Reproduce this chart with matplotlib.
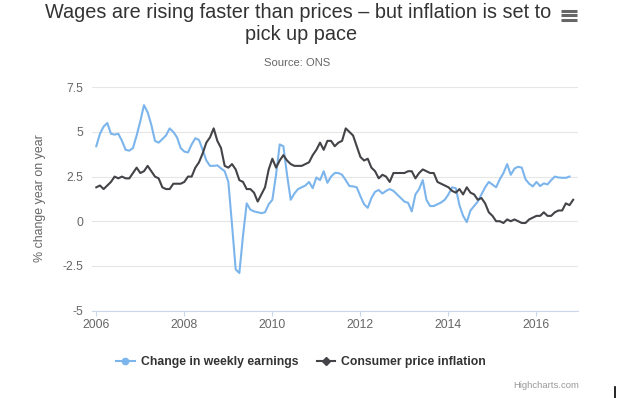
"""
Wages vs prices: weekly earnings growth and CPI inflation, 2006-2016.
"""
import matplotlib.pyplot as plt
import numpy as np
from matplotlib.lines import Line2D

# monthly values, first point is January 2006
weekly_earnings = [
    4.2, 4.9, 5.3, 5.5, 4.9, 4.85, 4.9, 4.5, 4.0, 3.95, 4.1, 4.8,
    5.6, 6.5, 6.1, 5.4, 4.5, 4.4, 4.6, 4.8, 5.2, 5.0, 4.7, 4.1,
    3.9, 3.85, 4.3, 4.65, 4.55, 4.0, 3.4, 3.1, 3.1, 3.13, 2.96, 2.8,
    2.2, -0.2, -2.7, -2.9, -0.8, 1.0, 0.65, 0.55, 0.5, 0.45, 0.5, 0.95,
    1.2, 2.6, 4.3, 4.2, 2.6, 1.2, 1.55, 1.8, 1.9, 2.0, 2.2, 1.85,
    2.45, 2.3, 2.8, 2.15, 2.5, 2.7, 2.7, 2.6, 2.3, 1.97, 1.95, 1.9,
    1.4, 0.95, 0.75, 1.3, 1.65, 1.75, 1.55, 1.7, 1.8, 1.7, 1.5, 1.3,
    1.1, 1.03, 0.55, 1.5, 1.8, 2.3, 1.2, 0.85, 0.85, 0.95, 1.05, 1.2,
    1.5, 1.9, 1.85, 0.9, 0.3, -0.05, 0.6, 0.85, 1.1, 1.5, 1.9, 2.2,
    2.05, 1.9, 2.35, 2.7, 3.2, 2.6, 2.95, 3.05, 3.0, 2.35, 2.1, 1.95,
    2.2, 1.97, 2.12, 2.06, 2.3, 2.5, 2.45, 2.43, 2.43, 2.5,
]
consumer_prices = [
    1.9, 2.0, 1.8, 2.0, 2.2, 2.5, 2.4, 2.5, 2.4, 2.4, 2.7, 3.0,
    2.7, 2.8, 3.1, 2.8, 2.5, 2.4, 1.9, 1.8, 1.8, 2.1, 2.1, 2.1,
    2.2, 2.5, 2.5, 3.0, 3.3, 3.8, 4.4, 4.7, 5.2, 4.5, 4.1, 3.1,
    3.0, 3.2, 2.9, 2.3, 2.2, 1.8, 1.8, 1.6, 1.1, 1.5, 1.9, 2.9,
    3.5, 3.0, 3.4, 3.7, 3.4, 3.2, 3.1, 3.1, 3.1, 3.2, 3.3, 3.7,
    4.0, 4.4, 4.0, 4.5, 4.5, 4.2, 4.4, 4.5, 5.2, 5.0, 4.8, 4.2,
    3.6, 3.4, 3.5, 3.0, 2.8, 2.4, 2.6, 2.5, 2.2, 2.7, 2.7, 2.7,
    2.7, 2.8, 2.8, 2.4, 2.7, 2.9, 2.8, 2.7, 2.7, 2.2, 2.1, 2.0,
    1.9, 1.7, 1.6, 1.8, 1.5, 1.9, 1.6, 1.5, 1.2, 1.3, 1.0, 0.5,
    0.3, 0.0, 0.0, -0.1, 0.1, 0.0, 0.1, 0.0, -0.1, -0.1, 0.1, 0.2,
    0.3, 0.3, 0.5, 0.3, 0.3, 0.5, 0.6, 0.6, 1.0, 0.9, 1.2,
]
series_names = ["Change in weekly earnings", "Consumer price inflation"]
series_colors = ["#7cb5ec", "#434348"]
series_markers = ["o", "D"]
start_year = 2006
year_ticks = [2006, 2008, 2010, 2012, 2014, 2016]
y_ticks = [-5, -2.5, 0, 2.5, 5, 7.5]
y_tick_labels = ["-5", "-2.5", "0", "2.5", "5", "7.5"]

W, H = 634, 398
FONT = ["Liberation Sans", "DejaVu Sans"]


def px(x, y):
    """pixel position -> figure fraction"""
    return x / W, 1 - y / H


def main():
    plt.rcParams["font.family"] = FONT
    fig = plt.figure(figsize=(W / 100, H / 100), dpi=100)

    left, top = px(92, 87.3)
    right, bottom = px(578.3, 310.5)
    ax = fig.add_axes([left, bottom, right - left, top - bottom])

    for values, name, color in zip([weekly_earnings, consumer_prices], series_names, series_colors):
        years = start_year + np.arange(len(values)) / 12
        ax.plot(years, values, color=color, lw=1.5, label=name, solid_joinstyle="round")

    ax.set_xlim(start_year - 1.17 / 12, start_year + 131.4 / 12)
    ax.set_ylim(-5, 7.5)
    ax.set_yticks(y_ticks)
    ax.set_yticklabels(y_tick_labels)
    ax.set_xticks(year_ticks)
    ax.set_xticklabels([str(y) for y in year_ticks])

    ax.grid(axis="y", color="#e6e6e6", lw=0.8)
    ax.set_axisbelow(True)
    for side in ("top", "right", "left"):
        ax.spines[side].set_visible(False)
    ax.spines["bottom"].set_color("#ccd6eb")
    ax.spines["bottom"].set_linewidth(0.8)
    ax.tick_params(axis="x", colors="#ccd6eb", length=3.6, width=0.8, labelcolor="#666666",
                   labelsize=8.8, pad=2.5)
    ax.tick_params(axis="y", length=0, labelcolor="#666666", labelsize=8.8, pad=6.5)

    fig.text(*px(40, 198), "% change year on year", rotation=90, ha="center", va="center",
             color="#666666", fontsize=8.9)

    # titles
    fig.text(*px(298, 13), "Wages are rising faster than prices \u2013 but inflation is set to",
             ha="center", va="center", color="#333333", fontsize=14.3)
    fig.text(*px(301, 34), "pick up pace", ha="center", va="center", color="#333333", fontsize=14.3)
    fig.text(*px(297, 63), "Source: ONS", ha="center", va="center", color="#666666", fontsize=8.1)

    # export menu icon
    for yy in (10.5, 15, 19.5):
        x0, y0 = px(561, yy)
        x1, _ = px(577, yy)
        fig.add_artist(Line2D([x0, x1], [y0, y0], color="#666666", lw=2.2,
                              solid_capstyle="butt", transform=fig.transFigure))

    handles = [Line2D([], [], color=c, lw=1.5, marker=m, ms=4.5 if m == "o" else 3.8)
               for c, m in zip(series_colors, series_markers)]
    fig.legend(handles, series_names, loc="center", bbox_to_anchor=px(301, 362), ncol=2,
               frameon=False, handlelength=1.5, handletextpad=0.5, columnspacing=1.5,
               prop={"weight": "bold", "size": 8.8}, labelcolor="#333333")

    fig.text(*px(579, 386), "Highcharts.com", ha="right", va="center", color="#999999", fontsize=6.8)

    # stray text cursor in the screenshot
    cx, cy0 = px(615, 387)
    _, cy1 = px(615, 398)
    fig.add_artist(Line2D([cx, cx], [cy0, cy1], color="black", lw=1.2, transform=fig.transFigure))

    fig.savefig("out.png", dpi=100, facecolor="white")


if __name__ == "__main__":
    main()
